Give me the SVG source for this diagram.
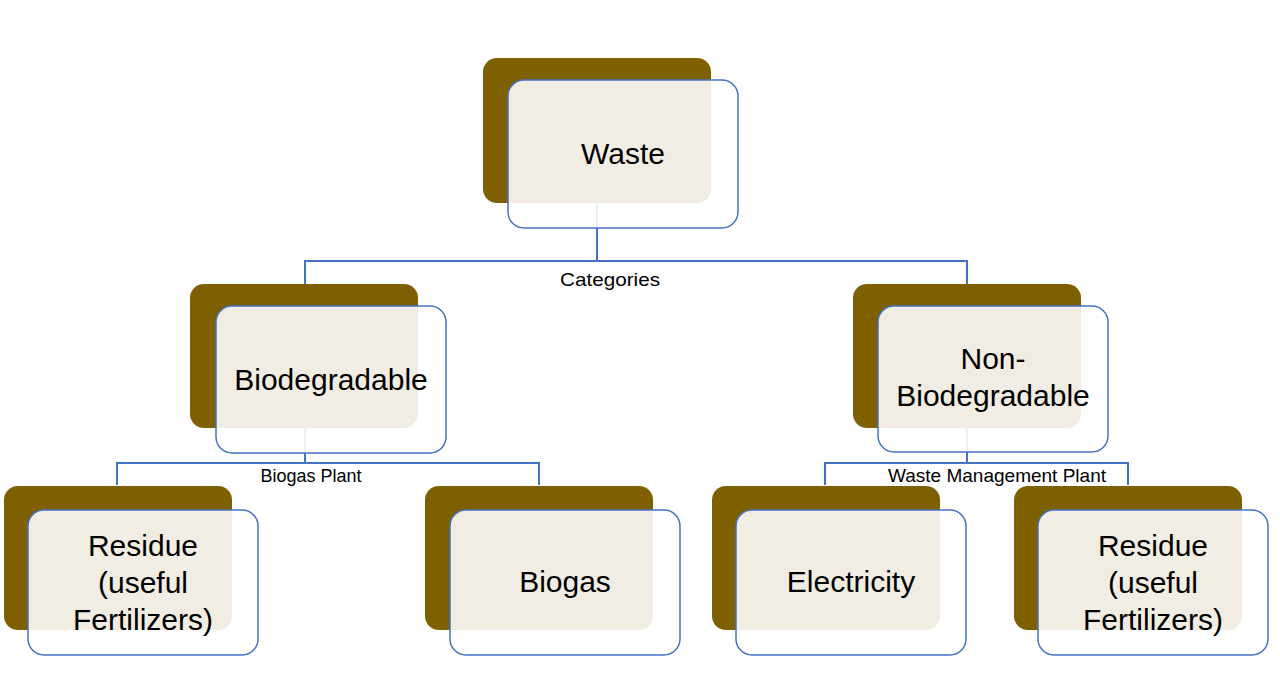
<svg xmlns="http://www.w3.org/2000/svg" width="1280" height="694" viewBox="0 0 1280 694">
<style>
.back{fill:#7F6000}
.front{fill:#ffffff;fill-opacity:0.89;stroke:#4472C4;stroke-width:1.5}
.t{font-family:"Liberation Sans",Arial,sans-serif;font-size:30px;fill:#000;text-anchor:middle}
.lbl{font-family:"Liberation Sans",Arial,sans-serif;font-size:19px;fill:#000;text-anchor:middle}
.conn{fill:none;stroke:#4472C4;stroke-width:2}
</style>
<rect width="1280" height="694" fill="#ffffff"/>
<g id="connectors">
<path class="conn" d="M597 203V261M305 284V261H967V284"/>
<path class="conn" d="M305 428V463M117 485V463H539V485"/>
<path class="conn" d="M967 428V463M825 485V463H1128V485"/>
<text class="lbl" x="610" y="286" textLength="100" lengthAdjust="spacingAndGlyphs">Categories</text>
<text class="lbl" x="311" y="482" textLength="101" lengthAdjust="spacingAndGlyphs">Biogas Plant</text>
<text class="lbl" x="997" y="482" textLength="218" lengthAdjust="spacingAndGlyphs">Waste Management Plant</text>
</g>
<g id="waste">
<rect class="back" x="483" y="58" width="228" height="145" rx="14"/>
<rect class="front" x="508" y="80" width="230" height="148" rx="16"/>
<text class="t" x="623" y="164">Waste</text>
</g>
<g id="biodegradable">
<rect class="back" x="190" y="284" width="228" height="144" rx="14"/>
<rect class="front" x="216" y="306" width="230" height="147" rx="16"/>
<text class="t" x="331" y="390">Biodegradable</text>
</g>
<g id="non-biodegradable">
<rect class="back" x="853" y="284" width="228" height="144" rx="14"/>
<rect class="front" x="878" y="306" width="230" height="146" rx="16"/>
<text class="t" x="993" y="369">Non-</text>
<text class="t" x="993" y="406">Biodegradable</text>
</g>
<g id="residue-left">
<rect class="back" x="4" y="486" width="228" height="144" rx="14"/>
<rect class="front" x="28" y="510" width="230" height="145" rx="16"/>
<text class="t" x="143" y="556">Residue</text>
<text class="t" x="143" y="593">(useful</text>
<text class="t" x="143" y="630">Fertilizers)</text>
</g>
<g id="biogas">
<rect class="back" x="425" y="486" width="228" height="144" rx="14"/>
<rect class="front" x="450" y="510" width="230" height="145" rx="16"/>
<text class="t" x="565" y="592">Biogas</text>
</g>
<g id="electricity">
<rect class="back" x="712" y="486" width="228" height="144" rx="14"/>
<rect class="front" x="736" y="510" width="230" height="145" rx="16"/>
<text class="t" x="851" y="592">Electricity</text>
</g>
<g id="residue-right">
<rect class="back" x="1014" y="486" width="228" height="144" rx="14"/>
<rect class="front" x="1038" y="510" width="230" height="145" rx="16"/>
<text class="t" x="1153" y="556">Residue</text>
<text class="t" x="1153" y="593">(useful</text>
<text class="t" x="1153" y="630">Fertilizers)</text>
</g>
</svg>
